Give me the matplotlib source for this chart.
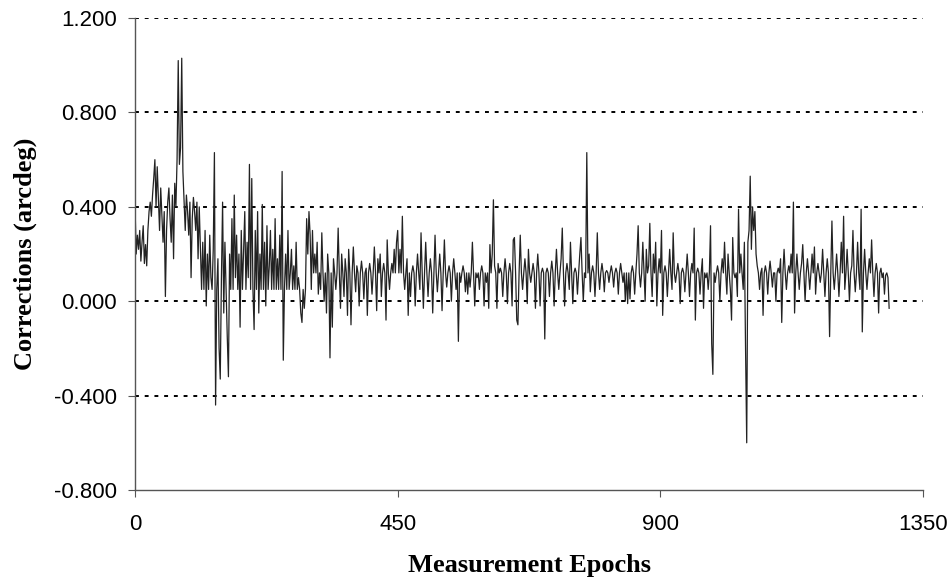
import matplotlib.pyplot as plt
import numpy as np

# corrections in hundredths of an arcdeg, one value every 2 epochs
seg_start = [40, 20, 28, 22, 30, 17, 25, 32, 16, 24, 15, 30, 38, 42, 36, 45, 52, 60, 40, 57, 44, 30, 48, 36, 25,
             38, 2, 30, 42, 48, 35, 25, 45, 18, 50, 40, 60, 102, 58, 65, 103, 55, 42, 30, 45, 38, 28, 42, 10, 35,
             44, 38, 30, 42, 18, 40, 22, 5, 25, 5, 30, -2, 20, 5, 28, 10, 5, 22, 63, -44, 5, 18, -20, -33, 10]
seg_low = [42, -5, 25, 5, -15, -32, 20, 5, 35, 5, 45, 10, 28, 5, 20, -11, 30, 5, 22, 38, 5, 25, 10, 58, 5,
           52, 5, -12, 30, 5, 38, -5, 20, 5, 41, 5, 25, -2, 32, 5, 15, 30, 5, 22, 5, 35, 5, 18, 5, 28,
           5, 55, -25, 5, 20, 5, 30, 5, 12, 22, 5, 15, 5, 25, 5, 10, 5, -5, -9, 5, -3, 5, 35, 20, 38]
seg_mid = [28, 5, 30, 12, 20, 12, 25, 3, 12, 5, 29, 12, 0, 12, -5, 20, 12, -24, 12, -11, 18, 12, 5, 12, 31,
           12, -3, 20, 12, 2, 18, 12, -6, 22, 12, -10, 12, 23, 12, 4, 15, 12, -2, 12, 17, 12, 1, 12, 14, -6,
           12, 16, 12, 3, 12, 23, 12, -4, 18, 12, 20, 2, 12, 16, 12, -8, 26, 12, 5, 12, 16, 12, 22, 12, 25,
           30, 12, 22, 12, 36, 12, 5, 12, 18, -6, 12, 2, 12, 15, 12, -2, 12, 20, 12, 5, 29, 12, -3, 12, 25,
           12, 2, 12, 18, 12, -5, 12, 28, 12, 4, 12, 20, 12, -4, 12, 26, 12, 6, 12, 15, 12, 0, 12, 18, 12,
           5, 12, -17, 12, 8, 12, 15, 12, 4, 12, 3, 12, 6, 12, 25, 12, -2, 12, 10, 12, 5, 12, 15, 12, -2,
           12, 8, 12, -3, 24, 12, 20, 43, 15, 12, -3, 16, 12, 14, 12, 2, 12, 18, 12, -1, 12, 16, 12, -2, 26]
seg_late = [27, 12, -8, -10, 12, 28, 12, 5, 12, 18, 12, -1, 22, 12, 8, 12, 16, 12, -3, 12, 20, 12, -2, 12, 14,
            12, -16, 12, 14, 12, 2, 12, 17, 12, -2, 12, 22, 12, 5, 12, 18, 31, 12, -2, 12, 16, 12, 5, 25, 12,
            -1, 12, 14, 12, 3, 12, 20, 27, 12, 0, 12, 10, 63, 12, 20, 4, 12, 15, 12, 2, 12, 29, 12, 5, 12,
            16, 12, 4, 12, 13, 12, 8, 12, 15, 12, 6, 12, 14, 12, 3, 12, 16, 12, 8, 12, 0, 12, -1, 12, 1,
            12, 15, 12, 3, 12, 20, 32, 12, 6, 12, 25, 12, 0, 22, 12, 15, 33, 12, 2, 20, 12, 25, -2, 12, 18,
            12, 30, -6, 12, 15, 12, 2, 12, 22, 12, 5, 29, 12, 8, 12, 16, 12, -1, 12, 14, 12, 4, 12, 20, 12,
            2, 12, 16, 12, 31, -8, 12, 14, 12, 3, 12, 18, -3, 12, 10, 12, 5, 12, 32, -18, -31, 12, 8, 12, 15]
seg_end = [12, 0, 12, 18, 12, 25, 12, 3, 20, 12, 5, -8, 27, 12, 10, 12, 2, 39, 12, 20, 12, 5, 25, -20, -60,
           25, 30, 53, 22, 40, 30, 38, 20, 15, 12, 5, 12, 14, -6, 12, 15, 12, 3, 12, 17, 12, 6, 12, 12, 0,
           12, 14, 12, 18, -9, 12, 22, 12, 5, 12, 15, 12, 20, 12, 42, -5, 12, 20, 12, 5, 12, 16, 24, 12, 0,
           12, 18, 12, 5, 12, 20, 12, 23, 3, 12, 16, 12, 8, 12, 22, 12, 2, 12, 18, 12, -15, 12, 34, 12, 5,
           12, 20, 12, 2, 12, 25, 12, 36, 5, 12, 22, 12, 0, 12, 15, 30, 12, 4, 12, 25, 12, 5, 39, -13, 12,
           22, 12, 5, 12, 18, 12, 26, 12, 2, 12, 16, 12, -5, 12, 14, 10, 12, 3, 11, 12, 10, -3]

corr = np.array(seg_start + seg_low + seg_mid + seg_late + seg_end) / 100.0
epochs = np.arange(len(corr)) * 2

yticks = [-0.8, -0.4, 0.0, 0.4, 0.8, 1.2]
xticks = [0, 450, 900, 1350]

fig = plt.figure(figsize=(9.53, 5.84), dpi=100)
ax = fig.add_axes([0.1417, 0.161, 0.8268, 0.808])

for y in yticks[1:]:
    ax.axhline(y, color='black', lw=1.4, ls=(0, (2, 3)), zorder=1)

ax.plot(epochs, corr, color='#222222', lw=0.9, zorder=2)

ax.set_xlim(0, 1350)
ax.set_ylim(-0.8, 1.2)
ax.set_xticks(xticks)
ax.set_yticks(yticks)
ax.set_yticklabels(['%.3f' % v for v in yticks])

for s in ['top', 'right']:
    ax.spines[s].set_visible(False)
for s in ['left', 'bottom']:
    ax.spines[s].set_color('#555555')
    ax.spines[s].set_linewidth(1.0)

ax.tick_params(direction='out', length=5, width=0.8, color='#555555',
               labelsize=16, pad=8)
for lab in ax.get_xticklabels() + ax.get_yticklabels():
    lab.set_family('Liberation Sans')
ax.tick_params(axis='x', pad=12)

ax.set_xlabel('Measurement Epochs', family='Liberation Serif', weight='bold',
              fontsize=19, labelpad=14)
ax.set_ylabel('Corrections (arcdeg)', family='Liberation Serif', weight='bold',
              fontsize=19, labelpad=12)

fig.savefig('out.png', dpi=100)
